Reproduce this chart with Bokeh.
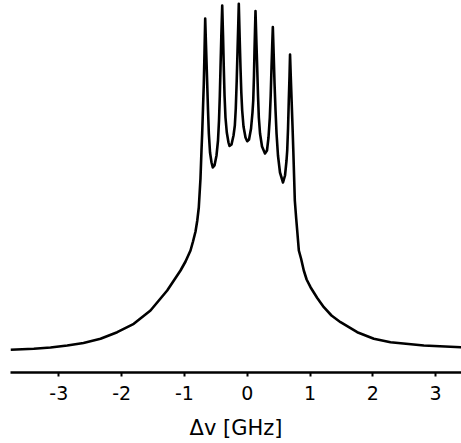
from bokeh.plotting import figure
from bokeh.models import Range1d, FixedTicker
from bokeh.embed import file_html
from bokeh.resources import INLINE

# Frequency detuning (GHz) and intensity (arbitrary units)
freq_ghz = [
    -3.769, -3.398, -3.132, -2.866, -2.607, -2.336, -2.070, -1.806, -1.540, -1.274,
    -1.062, -0.982, -0.903, -0.863, -0.823, -0.795, -0.771, -0.744, -0.728, -0.717,
    -0.704, -0.691, -0.680,
    -0.669, -0.656, -0.637, -0.624, -0.611, -0.592, -0.568, -0.548, -0.521, -0.489,
    -0.465, -0.449, -0.436, -0.425, -0.412, -0.398, -0.385, -0.373, -0.361, -0.346,
    -0.325, -0.298, -0.282, -0.250, -0.218, -0.197, -0.182, -0.167, -0.154, -0.143,
    -0.134, -0.119, -0.107, -0.094, -0.080, -0.059, -0.027, 0.000, 0.029, 0.061,
    0.084, 0.096, 0.108, 0.116, 0.124, 0.132, 0.148, 0.159, 0.172, 0.185,
    0.204, 0.236, 0.283, 0.315, 0.339, 0.360, 0.374, 0.387, 0.398, 0.408,
    0.422, 0.435, 0.451, 0.467, 0.490, 0.522, 0.570, 0.602, 0.626, 0.637,
    0.650, 0.662, 0.674, 0.682, 0.693, 0.707, 0.721, 0.734, 0.746, 0.758,
    0.780, 0.796, 0.809, 0.822, 0.857, 0.901, 0.946, 1.008, 1.115, 1.220,
    1.342, 1.486, 1.752, 2.016, 2.282, 2.812, 3.412,
]
intensity = [
    22.7, 23.7, 25.0, 27.0, 29.5, 33.7, 40.3, 48.7, 62.0, 82.0,
    102.0, 111.0, 122.0, 131.0, 141.0, 152.0, 165.0, 194.0, 222.0, 239.0,
    264.0, 289.0, 320.0,
    354.0, 327.0, 289.0, 262.0, 239.0, 220.0, 210.0, 205.0, 207.0, 217.0,
    232.0, 252.0, 277.0, 305.0, 337.0, 367.0, 337.0, 305.0, 277.0, 255.0,
    240.0, 230.0, 226.5, 228.0, 237.0, 247.0, 264.0, 292.0, 322.0, 347.0,
    368.7, 332.0, 305.0, 280.0, 262.0, 246.0, 235.0, 231.3, 233.0, 244.0,
    260.0, 272.0, 297.0, 322.0, 342.0, 361.5, 327.0, 305.0, 277.0, 255.0,
    239.0, 226.0, 219.0, 222.0, 235.0, 255.0, 277.0, 305.0, 327.0, 345.5,
    317.0, 289.0, 262.0, 239.0, 217.0, 200.0, 190.0, 197.0, 212.0, 222.0,
    244.0, 272.0, 297.0, 318.0, 297.0, 272.0, 247.0, 222.0, 197.0, 172.0,
    154.0, 142.0, 132.0, 122.0, 114.0, 102.0, 93.0, 85.3, 74.5, 65.3,
    57.0, 50.3, 40.3, 33.7, 30.3, 27.0, 25.2,
]
tick_values = [-3, -2, -1, 0, 1, 2, 3]
tick_labels = ["-3", "-2", "-1", "0", "1", "2", "3"]
axis_title = "Δv [GHz]"

p = figure(
    frame_width=451, frame_height=372,
    output_backend="svg", toolbar_location=None,
    x_range=Range1d(-3.769, 3.412), y_range=Range1d(0, 372),
    min_border_left=10, min_border_right=0, min_border_top=0, min_border_bottom=0,
    background_fill_color="white", border_fill_color="white",
)
p.outline_line_color = None
p.xgrid.visible = False
p.ygrid.visible = False
p.yaxis.visible = False

p.line(freq_ghz, intensity, line_width=2.6, line_color="black", line_join="round")

ax = p.xaxis[0]
ax.ticker = FixedTicker(ticks=tick_values)
ax.major_label_overrides = {v: s for v, s in zip(tick_values, tick_labels)}
ax.minor_tick_line_color = None
ax.axis_line_width = 2.6
ax.axis_line_color = "black"
ax.major_tick_line_color = "black"
ax.major_tick_line_width = 2
ax.major_tick_in = 0
ax.major_tick_out = 4
ax.major_label_standoff = 9
ax.major_label_text_font = "DejaVu Sans"
ax.major_label_text_font_size = "19px"
ax.major_label_text_color = "black"
ax.axis_label = axis_title
ax.axis_label_text_font = "DejaVu Sans"
ax.axis_label_text_font_size = "21px"
ax.axis_label_text_font_style = "normal"
ax.axis_label_text_color = "black"
ax.axis_label_standoff = 13

open("out.html", "w").write(file_html(p, INLINE))
